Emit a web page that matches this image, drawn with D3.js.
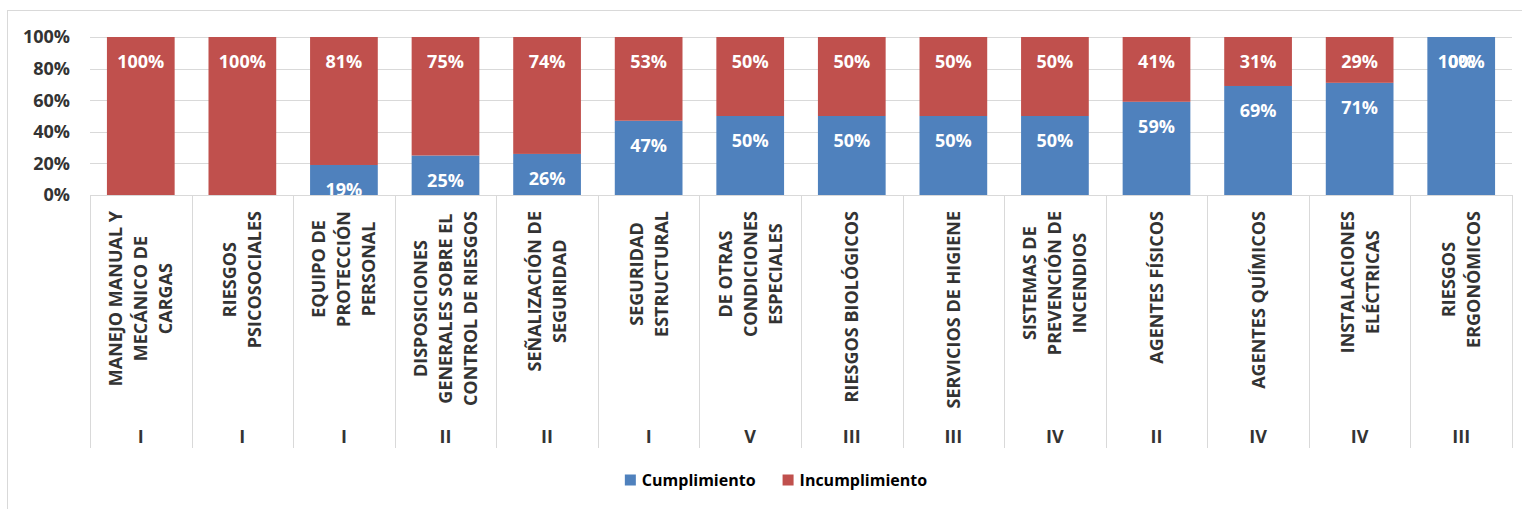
<!DOCTYPE html>
<html>
<head>
<meta charset="utf-8">
<script src="https://cdn.jsdelivr.net/npm/d3@7"></script>
<style>
  body { margin: 0; background: #fff; }
  svg { display: block; }
  text { font-family: "Open Sans", sans-serif; font-weight: bold; }
</style>
</head>
<body>
<div id="chart"></div>
<script>
// category labels (already split the way the original wraps them)
const categories = [
    ["MANEJO MANUAL Y", "MECÁNICO DE", "CARGAS"],
    ["RIESGOS", "PSICOSOCIALES"],
    ["EQUIPO DE", "PROTECCIÓN", "PERSONAL"],
    ["DISPOSICIONES", "GENERALES SOBRE EL", "CONTROL DE RIESGOS"],
    ["SEÑALIZACIÓN DE", "SEGURIDAD"],
    ["SEGURIDAD", "ESTRUCTURAL"],
    ["DE OTRAS", "CONDICIONES", "ESPECIALES"],
    ["RIESGOS BIOLÓGICOS"],
    ["SERVICIOS DE HIGIENE"],
    ["SISTEMAS DE", "PREVENCIÓN DE", "INCENDIOS"],
    ["AGENTES FÍSICOS"],
    ["AGENTES QUÍMICOS"],
    ["INSTALACIONES", "ELÉCTRICAS"],
    ["RIESGOS", "ERGONÓMICOS"]
];
const groups = ["I", "I", "I", "II", "II", "I", "V", "III", "III", "IV", "II", "IV", "IV", "III"];
const cumplimiento   = [0, 0, 0.19, 0.25, 0.26, 0.47, 0.50, 0.50, 0.50, 0.50, 0.59, 0.69, 0.71, 1.00];
const incumplimiento = [1.00, 1.00, 0.81, 0.75, 0.74, 0.53, 0.50, 0.50, 0.50, 0.50, 0.41, 0.31, 0.29, 0];
const yTicks = [0, 0.2, 0.4, 0.6, 0.8, 1.0];
const seriesNames = ["Cumplimiento", "Incumplimiento"];
const seriesColors = ["#4F81BD", "#C0504D"];

const width = 1522, height = 509;
const plot = { left: 90, right: 1512, top: 37, bottom: 195 };
const axisBottom = 448;

const svg = d3.select("#chart").append("svg")
    .attr("width", width)
    .attr("height", height);

// chart area border
svg.append("rect")
    .attr("x", 7.5).attr("y", 10.5)
    .attr("width", 1530).attr("height", 510)
    .attr("fill", "#fff")
    .attr("stroke", "#d9d9d9");

const x = d3.scaleBand()
    .domain(d3.range(categories.length))
    .range([plot.left, plot.right])
    .paddingInner(1 / 3)
    .paddingOuter(1 / 6);

const y = d3.scaleLinear()
    .domain([0, 1])
    .range([plot.bottom, plot.top]);

// horizontal gridlines
svg.append("g")
    .selectAll("line")
    .data(yTicks)
    .enter().append("line")
    .attr("x1", plot.left).attr("x2", plot.right)
    .attr("y1", d => Math.round(y(d)) + 0.5)
    .attr("y2", d => Math.round(y(d)) + 0.5)
    .attr("stroke", "#d9d9d9");

// y tick labels
svg.append("g")
    .selectAll("text")
    .data(yTicks)
    .enter().append("text")
    .attr("x", 70)
    .attr("y", d => y(d))
    .attr("dy", "0.36em")
    .attr("text-anchor", "end")
    .style("font-size", "18px")
    .style("fill", "#333")
    .text(d3.format(".0%"));

// stacked bars
const rows = categories.map((c, i) => ({ i, Cumplimiento: cumplimiento[i], Incumplimiento: incumplimiento[i] }));
const stacked = d3.stack().keys(seriesNames)(rows);

const layers = svg.append("g")
    .selectAll("g")
    .data(stacked)
    .enter().append("g")
    .attr("fill", (d, k) => seriesColors[k]);

layers.selectAll("rect")
    .data(d => d)
    .enter().append("rect")
    .attr("x", d => x(d.data.i))
    .attr("width", x.bandwidth())
    .attr("y", d => y(d[1]))
    .attr("height", d => y(d[0]) - y(d[1]));

// data labels, clipped to plot area like the original
svg.append("clipPath").attr("id", "plotClip")
    .append("rect")
    .attr("x", plot.left).attr("y", plot.top)
    .attr("width", plot.right - plot.left)
    .attr("height", plot.bottom - plot.top);

svg.append("g")
    .attr("clip-path", "url(#plotClip)")
    .selectAll("g")
    .data(stacked)
    .enter().append("g")
    .selectAll("text")
    .data(d => d.map(v => ({ v, val: v[1] - v[0] })))
    .enter().append("text")
    .attr("x", d => x(d.v.data.i) + x.bandwidth() / 2)
    .attr("y", d => y(d.v[1]) + 25)
    .attr("dy", "0.36em")
    .attr("text-anchor", "middle")
    .style("font-size", "18px")
    .style("fill", "#fff")
    .text(d => d3.format(".0%")(d.val));

// category axis: line + vertical separators
const step = x.step();
const bounds = d3.range(categories.length + 1).map(k => plot.left + k * step);

svg.append("line")
    .attr("x1", plot.left).attr("x2", plot.right)
    .attr("y1", plot.bottom + 0.5).attr("y2", plot.bottom + 0.5)
    .attr("stroke", "#d9d9d9");

svg.append("g")
    .selectAll("line")
    .data(bounds)
    .enter().append("line")
    .attr("x1", d => Math.round(d) + 0.5).attr("x2", d => Math.round(d) + 0.5)
    .attr("y1", plot.bottom).attr("y2", axisBottom)
    .attr("stroke", "#d9d9d9");

// rotated category labels, top aligned, lines centred on each other
const lineGap = 25;
const labelTop = 211;

categories.forEach((lines, i) => {
    const cx = x(i) + x.bandwidth() / 2;
    const texts = lines.map((ln, k) => svg.append("text")
        .attr("transform", `translate(${cx + (k - (lines.length - 1) / 2) * lineGap},0) rotate(-90)`)
        .attr("dy", "0.36em")
        .attr("text-anchor", "middle")
        .style("font-size", "18px")
        .style("fill", "#333")
        .text(ln));
    const maxLen = d3.max(texts, t => t.node().getComputedTextLength());
    texts.forEach(t => t.attr("x", -(labelTop + maxLen / 2)));
});

// group labels (I, II, ...)
svg.append("g")
    .selectAll("text")
    .data(groups)
    .enter().append("text")
    .attr("x", (d, i) => x(i) + x.bandwidth() / 2)
    .attr("y", 437)
    .attr("dy", "0.36em")
    .attr("text-anchor", "middle")
    .style("font-size", "18px")
    .style("fill", "#333")
    .text(d => d);

// legend
const legend = svg.append("g");
const items = seriesNames.map((name, k) => {
    const g = legend.append("g");
    g.append("rect")
        .attr("width", 11).attr("height", 11)
        .attr("y", -5.5)
        .attr("fill", seriesColors[k]);
    const t = g.append("text")
        .attr("x", 17)
        .attr("dy", "0.36em")
        .style("font-size", "16px")
        .style("fill", "#000")
        .text(name);
    return { g, w: 17 + t.node().getComputedTextLength() };
});
const itemGap = 27;
const totalW = d3.sum(items, d => d.w) + itemGap * (items.length - 1);
let lx = 776 - totalW / 2;
items.forEach(it => {
    it.g.attr("transform", `translate(${lx},480)`);
    lx += it.w + itemGap;
});
</script>
</body>
</html>
